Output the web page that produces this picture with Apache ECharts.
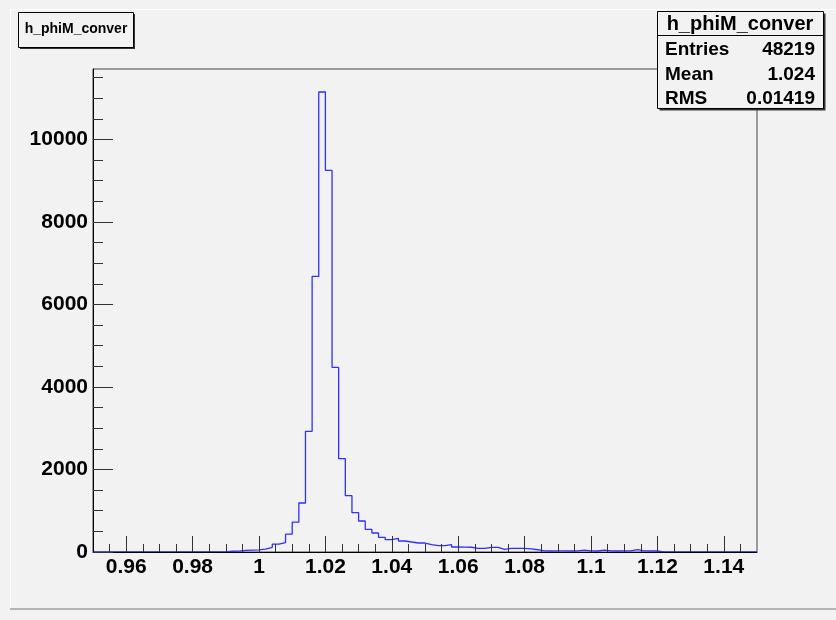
<!DOCTYPE html>
<html>
<head>
<meta charset="utf-8">
<script src="https://cdn.jsdelivr.net/npm/echarts@6/dist/echarts.min.js"></script>
<style>
  html, body { margin: 0; padding: 0; background: #f2f2f2; }
  #chart { width: 836px; height: 620px; }
</style>
</head>
<body>
<div id="chart"></div>
<script>
// h_phiM_conver: 100 bins from 0.95 to 1.15 (bin width 0.002)
const histName = 'h_phiM_conver';
const binLow = 0.95;
const binHigh = 1.15;
const nBins = 100;

// bin contents, bin 0 .. bin 99
const counts = [
  0, 0, 0, 0, 0, 0, 0, 0, 0, 0,
  0, 0, 0, 0, 0, 0, 0, 0, 0, 0,
  18, 22, 38, 44, 50, 72, 112, 192, 230, 432,
  724, 1188, 2925, 6680, 11150, 9250, 4475, 2262, 1366, 953,
  752, 549, 461, 356, 299, 331, 267, 242, 218, 218,
  178, 154, 154, 178, 121, 118, 115, 89, 89, 113,
  113, 65, 89, 89, 89, 75, 55, 25, 24, 26,
  25, 24, 25, 48, 25, 24, 48, 25, 24, 25,
  26, 55, 25, 24, 24, 0, 0, 0, 0, 0,
  0, 0, 0, 0, 0, 0, 0, 0, 0, 0
];

// statistics box
const statLabels = ['Entries', 'Mean', 'RMS'];
const statValues = ['48219', '1.024', '0.01419'];

// axis ticks and labels
const xMajorTicks = [0.96, 0.98, 1, 1.02, 1.04, 1.06, 1.08, 1.1, 1.12, 1.14];
const yMajorTicks = [0, 2000, 4000, 6000, 8000, 10000];
const yMax = 11708; // 1.05 x highest bin

const xMinorTicks = [];
for (let k = 191; k <= 229; k++) xMinorTicks.push(k / 200);
const yMinorTicks = [];
for (let k = 1; k <= 23; k++) yMinorTicks.push(k * 500);

// outline of the histogram: one flat segment per bin
const binWidth = (binHigh - binLow) / nBins;
const outline = [[binLow, 0]];
counts.forEach((c, i) => {
  const x0 = +(binLow + i * binWidth).toFixed(4);
  const x1 = +(binLow + (i + 1) * binWidth).toFixed(4);
  outline.push([x0, c], [x1, c]);
});
outline.push([binHigh, 0]);

const FONT = '"Liberation Sans", Arial, Helvetica, sans-serif';

const chart = echarts.init(document.getElementById('chart'), null, { renderer: 'canvas' });

const graphic = [
  // canvas bevel
  { type: 'line', z: 1, shape: { x1: 10, y1: 9.5, x2: 836, y2: 9.5 }, style: { stroke: '#ffffff', lineWidth: 1 } },
  { type: 'line', z: 1, shape: { x1: 10.5, y1: 9, x2: 10.5, y2: 609 }, style: { stroke: '#ffffff', lineWidth: 1 } },
  { type: 'line', z: 1, shape: { x1: 10, y1: 609, x2: 836, y2: 609 }, style: { stroke: '#b4b4b4', lineWidth: 2 } },

  // title box
  { type: 'rect', z: 20, shape: { x: 20, y: 14, width: 115, height: 35 }, style: { fill: '#333333' } },
  { type: 'rect', z: 21, shape: { x: 18.5, y: 12.5, width: 115, height: 35 }, style: { fill: '#f2f2f2', stroke: '#000000', lineWidth: 1 } },
  { type: 'text', z: 22, style: { x: 76, y: 29.5, text: histName, fill: '#000', font: 'bold 14px ' + FONT, align: 'center', verticalAlign: 'middle' } },

  // statistics box
  { type: 'rect', z: 20, shape: { x: 659.5, y: 13.5, width: 166, height: 97 }, style: { fill: '#333333' } },
  { type: 'rect', z: 21, shape: { x: 657.5, y: 11.5, width: 166, height: 97 }, style: { fill: '#f2f2f2', stroke: '#000000', lineWidth: 1 } },
  { type: 'line', z: 22, shape: { x1: 657.5, y1: 35.5, x2: 823.5, y2: 35.5 }, style: { stroke: '#000000', lineWidth: 1 } },
  { type: 'text', z: 22, style: { x: 740, y: 24, text: histName, fill: '#000', font: 'bold 20px ' + FONT, align: 'center', verticalAlign: 'middle' } }
];
const statRowsY = [49.5, 74.5, 98.5];
statLabels.forEach((lab, i) => {
  graphic.push({ type: 'text', z: 22, style: { x: 665, y: statRowsY[i], text: lab, fill: '#000', font: 'bold 19px ' + FONT, align: 'left', verticalAlign: 'middle' } });
  graphic.push({ type: 'text', z: 22, style: { x: 815, y: statRowsY[i], text: statValues[i], fill: '#000', font: 'bold 19px ' + FONT, align: 'right', verticalAlign: 'middle' } });
});

chart.setOption({
  animation: false,
  backgroundColor: '#f2f2f2',
  grid: {
    left: 93, top: 69, width: 664, height: 483,
    show: true, backgroundColor: 'transparent', borderColor: '#444444', borderWidth: 1
  },
  xAxis: [
    {
      type: 'value', min: binLow, max: binHigh, position: 'bottom', z: 5,
      axisLine: { show: true, onZero: false, lineStyle: { color: '#000', width: 1 } },
      axisTick: { show: true, inside: true, length: 16, customValues: xMajorTicks, lineStyle: { color: '#333', width: 1 } },
      axisLabel: { show: true, customValues: xMajorTicks, margin: 5, color: '#000', fontSize: 21, fontWeight: 'bold', fontFamily: FONT, formatter: v => String(v) },
      splitLine: { show: false }
    },
    {
      type: 'value', min: binLow, max: binHigh, position: 'bottom', offset: 0, z: 5,
      axisLine: { show: false },
      axisTick: { show: true, inside: true, length: 8, customValues: xMinorTicks, lineStyle: { color: '#333', width: 1 } },
      axisLabel: { show: false },
      splitLine: { show: false }
    }
  ],
  yAxis: [
    {
      type: 'value', min: 0, max: yMax, position: 'left', z: 5,
      axisLine: { show: true, onZero: false, lineStyle: { color: '#000', width: 1 } },
      axisTick: { show: true, inside: true, length: 20, customValues: yMajorTicks, lineStyle: { color: '#333', width: 1 } },
      axisLabel: { show: true, customValues: yMajorTicks, margin: 5, color: '#000', fontSize: 21, fontWeight: 'bold', fontFamily: FONT, formatter: v => String(v) },
      splitLine: { show: false }
    },
    {
      type: 'value', min: 0, max: yMax, position: 'left', offset: 0, z: 5,
      axisLine: { show: false },
      axisTick: { show: true, inside: true, length: 10, customValues: yMinorTicks, lineStyle: { color: '#333', width: 1 } },
      axisLabel: { show: false },
      splitLine: { show: false }
    }
  ],
  series: [
    {
      name: histName,
      type: 'line',
      xAxisIndex: 0,
      yAxisIndex: 0,
      data: outline,
      showSymbol: false,
      symbol: 'none',
      z: 2,
      lineStyle: { color: '#2f2fff', width: 1.3 },
      silent: true
    }
  ],
  graphic: graphic
});
</script>
</body>
</html>
